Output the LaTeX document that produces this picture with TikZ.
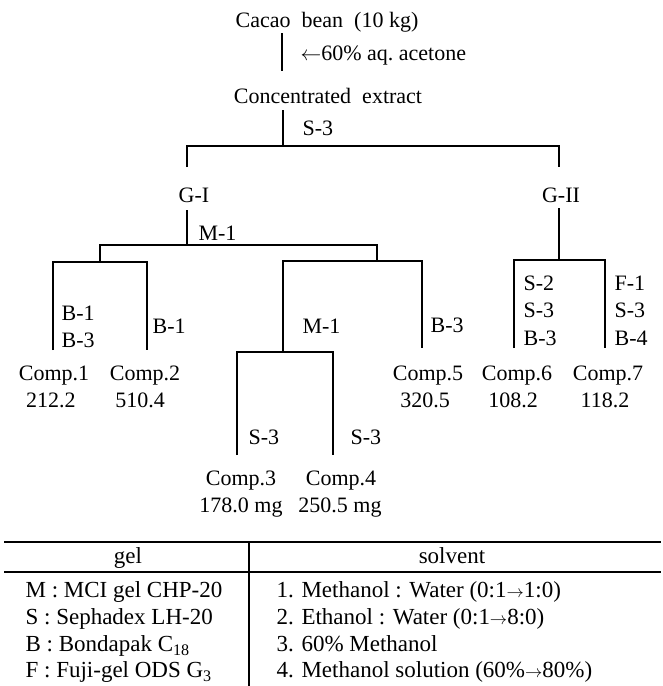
\documentclass[tikz,border=0pt]{standalone}
\usepackage{fontspec}
\setmainfont{Liberation Serif}
\newcommand\myarr{{\fontsize{17}{17}\selectfont$\rightarrow$}}
\begin{document}
\begin{tikzpicture}[x=1pt,y=-1pt,line width=1.2pt,
  lbl/.style={font=\fontsize{22}{24}\selectfont,inner sep=0pt,text height=14.5pt,text depth=0pt},
  lblw/.style={lbl,anchor=west},
  tbl/.style={font=\fontsize{23}{25}\selectfont,inner sep=0pt,text height=15pt,text depth=0pt},
  tblw/.style={tbl,anchor=west},
  conn/.style={line width=1.2pt},
  rule/.style={line width=1.5pt}]
\useasboundingbox (0,0) rectangle (663,686);

% ---- texts of the flow chart
\node[lbl] (cacao) at (327,20) {Cacao\ \ bean\ \ (10 kg)};
\node[lblw] (acet) at (300,53) {$\leftarrow$60\%\ aq.\ acetone};
\node[lbl] (extract) at (328,96) {Concentrated\ \ extract};
\node[lblw] (s3a) at (302,128) {S-3};
\node[lbl] (g1) at (194,195) {G-I};
\node[lbl] (g2) at (561,195) {G-II};
\node[lblw] (m1a) at (198,233) {M-1};
\node[lblw] (b1a) at (61,313) {B-1};
\node[lblw] (b3a) at (61,340) {B-3};
\node[lblw] (b1b) at (152,326) {B-1};
\node[lblw] (m1b) at (302,326) {M-1};
\node[lblw] (b3b) at (430,325) {B-3};
\node[lblw] (s2c) at (523,283) {S-2};
\node[lblw] (s3c) at (523,310) {S-3};
\node[lblw] (b3c) at (523,338) {B-3};
\node[lblw] (f1d) at (614,283) {F-1};
\node[lblw] (s3d) at (614,310) {S-3};
\node[lblw] (b4d) at (614,338) {B-4};
\node[lblw] (s3e) at (248,437) {S-3};
\node[lblw] (s3f) at (350,437) {S-3};

\node[lbl] (c1) at (54,373) {Comp.1};
\node[lbl] (n1) at (51,400) {212.2};
\node[lbl] (c2) at (145,373) {Comp.2};
\node[lbl] (n2) at (140,400) {510.4};
\node[lbl] (c5) at (428,373) {Comp.5};
\node[lbl] (n5) at (425,400) {320.5};
\node[lbl] (c6) at (517,373) {Comp.6};
\node[lbl] (n6) at (513,400) {108.2};
\node[lbl] (c7) at (608,373) {Comp.7};
\node[lbl] (n7) at (605,400) {118.2};
\node[lbl] (c3) at (241,478) {Comp.3};
\node[lbl] (n3) at (241,505) {178.0 mg};
\node[lbl] (c4) at (341,478) {Comp.4};
\node[lbl] (n4) at (340,505) {250.5 mg};

% ---- junction points
\coordinate (a0) at (282,33);  \coordinate (a1) at (282,71);
\coordinate (b0) at (283,110); \coordinate (b1) at (283,146);
\coordinate (gl) at (187,167); \coordinate (gr) at (559,167);
\coordinate (g1b) at (187,210); \coordinate (g1j) at (187,245);
\coordinate (mL) at (100,262); \coordinate (mR) at (377,261);
\coordinate (l1) at (53,350);  \coordinate (l2) at (147,350);
\coordinate (r1) at (283,352); \coordinate (r2) at (422,348);
\coordinate (s1) at (237,455); \coordinate (s2) at (333,455);
\coordinate (g2b) at (559,208); \coordinate (g2j) at (559,260);
\coordinate (e1) at (514,348); \coordinate (e2) at (605,348);

% ---- connectors
\draw[conn] (a0) -- (a1);
\draw[conn] (b0) -- (b1);
\draw[conn] (gl) |- (b1) -| (gr);
\draw[conn] (g1b) -- (g1j);
\draw[conn] (mL) |- (g1j) -| (mR);
\draw[conn] (l1) |- (mL) -| (l2);
\draw[conn] (r1) |- (mR) -| (r2);
\draw[conn] (s1) |- (r1) -| (s2);
\draw[conn] (g2b) -- (g2j);
\draw[conn] (e1) |- (g2j) -| (e2);

% ---- table
\coordinate (tl) at (4,542);   \coordinate (tr) at (661,542);
\coordinate (hl) at (4,572);   \coordinate (hr) at (661,572);
\coordinate (vt) at (249,542); \coordinate (vb) at (249,686);
\draw[rule] (tl) -- (tr);
\draw[conn] (hl) -- (hr);
\draw[conn] (vt) -- (vb);

\node[tbl] (hgel) at (128,556) {gel};
\node[tbl] (hsol) at (452,556) {solvent};
\node[tblw] (gm) at (25,590) {M : MCI gel CHP-20};
\node[tblw] (gs) at (25,617) {S : Sephadex LH-20};
\node[tblw] (gb) at (25,644) {B : Bondapak C\textsubscript{18}};
\node[tblw] (gf) at (25,670) {F : Fuji-gel ODS G\textsubscript{3}};
\node[tblw] (sv1) at (276,590) {1. Methanol : Water (0:1\myarr1:0)};
\node[tblw] (sv2) at (276,617) {2. Ethanol : Water (0:1\myarr8:0)};
\node[tblw] (sv3) at (276,644) {3. 60\% Methanol};
\node[tblw] (sv4) at (276,670) {4. Methanol solution (60\%\myarr80\%)};
\end{tikzpicture}
\end{document}
